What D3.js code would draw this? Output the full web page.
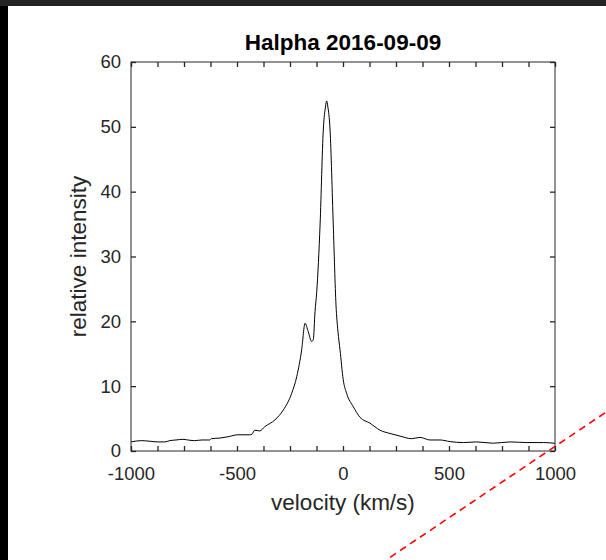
<!DOCTYPE html>
<html><head><meta charset="utf-8">
<script src="https://cdn.jsdelivr.net/npm/d3@7"></script>
<style>
html,body{margin:0;padding:0;background:#fff;}
svg{display:block;font-family:"Liberation Sans",Arial,Helvetica,sans-serif;}
</style></head>
<body>
<svg id="chart" width="606" height="560"></svg>
<script>
const title = "Halpha 2016-09-09";
const xLabel = "velocity (km/s)";
const yLabel = "relative intensity";
const velocity = [-1000,-951,-910,-873,-841,-817,-788,-755,-722,-700,-665,-629,-621,-580,-542,-495,-440,-429,-417,-393,-369,-321,-282,-242,-218,-195,-179,-164,-148,-140,-132,-124,-108,-93,-82,-77,-72,-61,-46,-33,-24,-14,1,17,49,80,127,175,222,269,324,363,410,458,505,567,631,709,788,867,945,1000];
const intensity = [1.4,1.6,1.5,1.4,1.4,1.6,1.7,1.8,1.65,1.6,1.7,1.7,1.9,2.0,2.2,2.5,2.5,2.6,3.2,3.1,3.75,4.8,6.3,8.9,11.5,15.6,19.7,18.4,16.9,17.2,21.5,24.5,35,49.5,53.2,54,53.2,49.5,35,22.5,18.5,15.6,11,8.9,6.8,5.2,4.3,3.2,2.7,2.3,1.9,2.1,1.7,1.7,1.45,1.3,1.4,1.2,1.4,1.3,1.3,1.2];
const xTicks = [-1000,-875,-750,-625,-500,-375,-250,-125,0,125,250,375,500,625,750,875,1000];
const xTickLabels = [-1000,-500,0,500,1000];
const yTicks = [0,10,20,30,40,50,60];
// decorative red dashed line (in data units of the axes)
const refVel = [222,1241];
const refInt = [-16.4,6.0];

const svg = d3.select("#chart");
// window frame
svg.append("rect").attr("x",0).attr("y",0).attr("width",606).attr("height",6).attr("fill","#242424");
svg.append("rect").attr("x",0).attr("y",6).attr("width",8).attr("height",554).attr("fill","#000");

const L=131,R=555,T=62,B=451;
const x = d3.scaleLinear().domain([-1000,1000]).range([L,R]);
const y = d3.scaleLinear().domain([0,60]).range([B,T]);
const axCol = "#262626";

// line
const line = d3.line().x((d,i)=>x(velocity[i])).y((d,i)=>y(intensity[i])).curve(d3.curveMonotoneX);
svg.append("path").datum(velocity).attr("d",line).attr("fill","none").attr("stroke","#000").attr("stroke-width",1);

// box
svg.append("rect").attr("x",L).attr("y",T).attr("width",R-L).attr("height",B-T)
  .attr("fill","none").attr("stroke",axCol).attr("stroke-width",1);

function styleAxis(g){
  g.select(".domain").remove();
  g.selectAll(".tick line").attr("stroke",axCol).attr("stroke-width",1.3);
  g.selectAll(".tick text").attr("fill",axCol).style("font-size","18.5px").style("font-family","Liberation Sans, Arial, sans-serif");
}
const fmt = d => xTickLabels.includes(d) ? String(d) : "";
const gx = svg.append("g").attr("transform",`translate(0,${B})`)
  .call(d3.axisBottom(x).tickValues(xTicks).tickSize(-5).tickPadding(16).tickFormat(fmt));
styleAxis(gx);
const gxt = svg.append("g").attr("transform",`translate(0,${T})`)
  .call(d3.axisTop(x).tickValues(xTicks).tickSize(-5).tickFormat(""));
styleAxis(gxt);
const gy = svg.append("g").attr("transform",`translate(${L},0)`)
  .call(d3.axisLeft(y).tickValues(yTicks).tickSize(-5).tickPadding(10).tickFormat(d=>String(d)));
styleAxis(gy);
const gyr = svg.append("g").attr("transform",`translate(${R},0)`)
  .call(d3.axisRight(y).tickValues(yTicks).tickSize(-5).tickFormat(""));
styleAxis(gyr);

// labels
svg.append("text").attr("x",(L+R)/2).attr("y",50).attr("text-anchor","middle")
  .style("font-size","22.5px").style("font-weight","bold").attr("fill","#000").text(title);
svg.append("text").attr("x",(L+R)/2).attr("y",510).attr("text-anchor","middle")
  .style("font-size","22.5px").attr("fill",axCol).text(xLabel);
svg.append("text").attr("transform",`translate(86,${(T+B)/2}) rotate(-90)`).attr("text-anchor","middle")
  .style("font-size","22.5px").attr("fill",axCol).text(yLabel);

// red dashed line
svg.append("line").attr("x1",x(refVel[0])).attr("y1",y(refInt[0])).attr("x2",x(refVel[1])).attr("y2",y(refInt[1]))
  .attr("stroke","#ff0000").attr("stroke-width",1.6).attr("stroke-dasharray","7,5");
</script>
</body></html>
